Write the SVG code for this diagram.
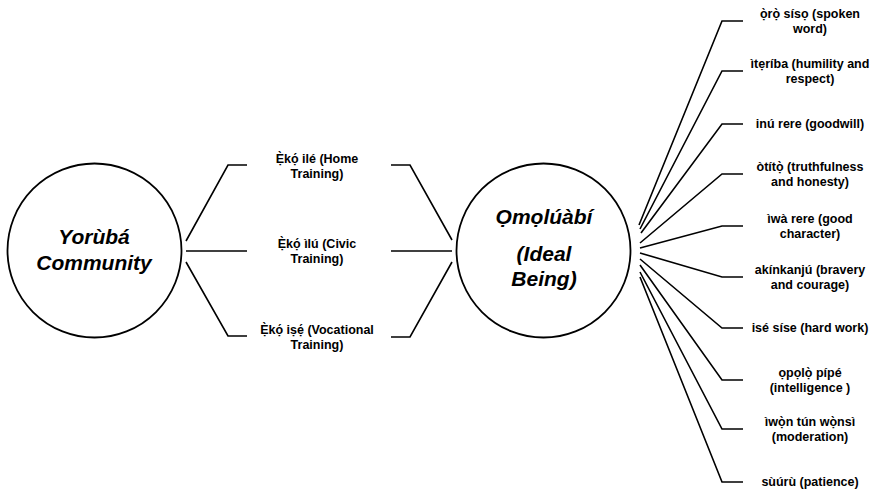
<svg xmlns="http://www.w3.org/2000/svg" width="878" height="493" viewBox="0 0 878 493">
<style>
.c{fill:none;stroke:#000;stroke-width:1.8}
.l{fill:none;stroke:#000;stroke-width:1.6;stroke-linejoin:miter}
.big{font-family:"Liberation Sans",Arial,sans-serif;font-weight:bold;font-style:italic;font-size:21px;text-anchor:middle;fill:#000}
.t{font-family:"Liberation Sans",Arial,sans-serif;font-weight:bold;font-size:12.5px;text-anchor:middle;fill:#000}
</style>
<rect width="878" height="493" fill="#fff"/>
<g id="community">
<circle class="c" cx="94.5" cy="250.5" r="87"/>
<text class="big" x="94" y="244">Yorùbá</text>
<text class="big" x="94" y="270">Community</text>
</g>
<g id="omoluabi">
<circle class="c" cx="543.5" cy="250.5" r="87"/>
<text class="big" x="544" y="224">Ọmọlúàbí</text>
<text class="big" x="544" y="261">(Ideal</text>
<text class="big" x="544" y="286">Being)</text>
</g>
<g id="eko-ile"><text class="t" x="317" y="163">Ẹ̀kọ́ ilé (Home</text><text class="t" x="317" y="178">Training)</text></g>
<g id="eko-ilu"><text class="t" x="317" y="248">Ẹ̀kọ́ ìlú (Civic</text><text class="t" x="317" y="263">Training)</text></g>
<g id="eko-ise"><text class="t" x="317" y="334">Ẹ̀kọ́ iṣẹ́ (Vocational</text><text class="t" x="317" y="349">Training)</text></g>
<g id="oro-siso"><text class="t" x="810" y="18">ọ̀rọ̀ sísọ (spoken</text><text class="t" x="810" y="33">word)</text></g>
<g id="iteriba"><text class="t" x="810" y="68">ìtẹríba (humility and</text><text class="t" x="810" y="83">respect)</text></g>
<g id="inu-rere"><text class="t" x="810" y="128">inú rere (goodwill)</text></g>
<g id="otito"><text class="t" x="810" y="171">òtítọ̀ (truthfulness</text><text class="t" x="810" y="186">and honesty)</text></g>
<g id="iwa-rere"><text class="t" x="810" y="223">ìwà rere (good</text><text class="t" x="810" y="238">character)</text></g>
<g id="akinkanju"><text class="t" x="810" y="274">akínkanjú (bravery</text><text class="t" x="810" y="289">and courage)</text></g>
<g id="ise-sise"><text class="t" x="810" y="332">isé síse (hard work)</text></g>
<g id="opolo-pipe"><text class="t" x="810" y="377">ọpọlọ̀ pípé</text><text class="t" x="810" y="392">(intelligence )</text></g>
<g id="iwon-tun-wonsi"><text class="t" x="810" y="426">ìwọ̀n tún wọ̀nsì</text><text class="t" x="810" y="441">(moderation)</text></g>
<g id="suuru"><text class="t" x="810" y="486">sùúrù (patience)</text></g>
<g id="connectors">
<path class="l" d="M186,241 L228,165 L247,165"/>
<path class="l" d="M186,251 L247,251"/>
<path class="l" d="M186,262 L228,336 L247,336"/>
<path class="l" d="M391,165 L410,165 L452,240"/>
<path class="l" d="M391,251 L452,251"/>
<path class="l" d="M391,337 L410,337 L452,262"/>
<path class="l" d="M639,225 L722,21 L743,21"/>
<path class="l" d="M640,229 L722,71 L743,71"/>
<path class="l" d="M641,233 L722,124 L743,124"/>
<path class="l" d="M640,243 L722,174 L743,174"/>
<path class="l" d="M640,248 L722,226 L743,226"/>
<path class="l" d="M640,253 L722,277 L743,277"/>
<path class="l" d="M640,259 L722,328 L743,328"/>
<path class="l" d="M640,265 L722,380 L743,380"/>
<path class="l" d="M640,272 L722,429 L743,429"/>
<path class="l" d="M640,277 L722,482 L743,482"/>
</g>
</svg>
